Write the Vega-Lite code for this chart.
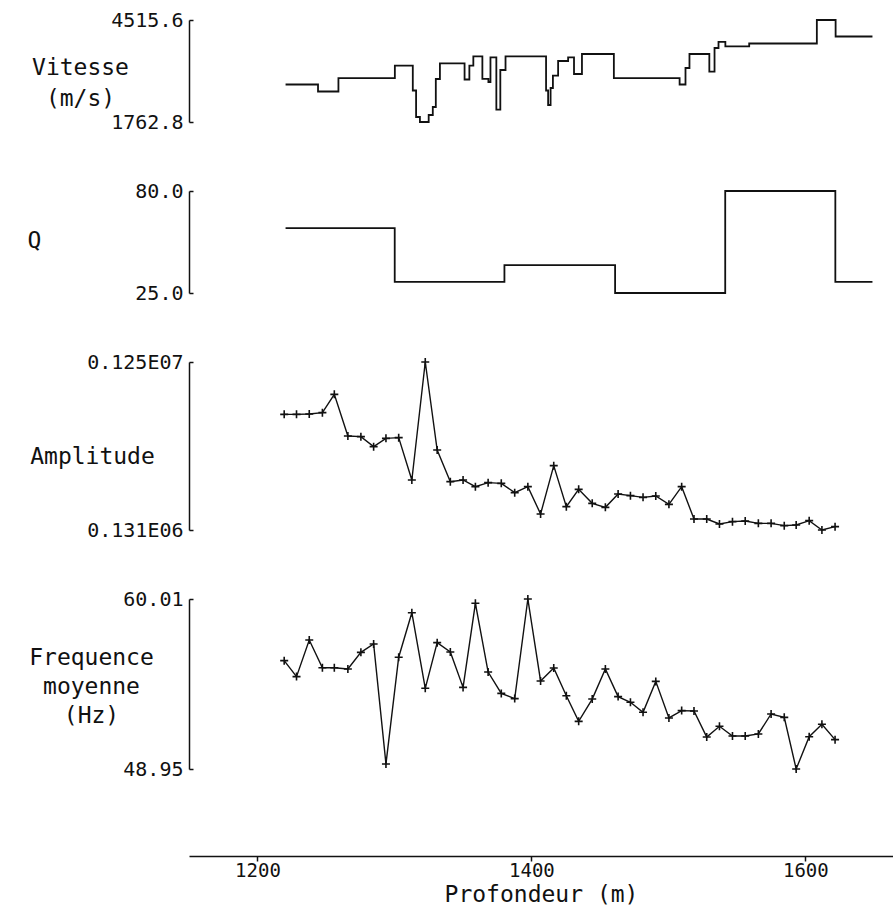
{
  "$schema": "https://vega.github.io/schema/vega-lite/v6.json",
  "background": "white",
  "padding": {"left": 27, "top": 10, "right": 0, "bottom": 0},
  "bounds": "flush",
  "spacing": 69,
  "config": {
    "view": {"stroke": null},
    "font": "DejaVu Sans Mono",
    "axis": {
      "grid": false,
      "domainColor": "#111111",
      "tickColor": "#111111",
      "labelColor": "#111111",
      "titleColor": "#111111",
      "labelFont": "DejaVu Sans Mono",
      "titleFont": "DejaVu Sans Mono",
      "labelFontSize": 20,
      "titleFontSize": 23,
      "titleFontWeight": "normal",
      "domainWidth": 1.5,
      "tickWidth": 1.5,
      "labelFlush": false,
      "labelOverlap": false,
      "labelBound": false
    }
  },
  "datasets": {
    "vitesse": [
      {"depth": 1220.5, "vitesse": 2775},
      {"depth": 1244.2, "vitesse": 2586},
      {"depth": 1259.1, "vitesse": 2945},
      {"depth": 1300.3, "vitesse": 3285},
      {"depth": 1313.4, "vitesse": 2613},
      {"depth": 1315.8, "vitesse": 1898},
      {"depth": 1318.6, "vitesse": 1763},
      {"depth": 1325.0, "vitesse": 1952},
      {"depth": 1328.0, "vitesse": 2168},
      {"depth": 1330.2, "vitesse": 2923},
      {"depth": 1333.2, "vitesse": 3347},
      {"depth": 1351.2, "vitesse": 2910},
      {"depth": 1354.7, "vitesse": 3285},
      {"depth": 1357.6, "vitesse": 3533},
      {"depth": 1364.2, "vitesse": 2926},
      {"depth": 1368.6, "vitesse": 2842},
      {"depth": 1370.1, "vitesse": 3506},
      {"depth": 1374.4, "vitesse": 2095},
      {"depth": 1377.3, "vitesse": 3166},
      {"depth": 1381.1, "vitesse": 3533},
      {"depth": 1410.7, "vitesse": 2613},
      {"depth": 1412.2, "vitesse": 2222},
      {"depth": 1414.0, "vitesse": 2680},
      {"depth": 1415.7, "vitesse": 3015},
      {"depth": 1419.5, "vitesse": 3409},
      {"depth": 1426.8, "vitesse": 3506},
      {"depth": 1431.1, "vitesse": 3058},
      {"depth": 1436.9, "vitesse": 3598},
      {"depth": 1460.2, "vitesse": 2945},
      {"depth": 1508.2, "vitesse": 2775},
      {"depth": 1512.5, "vitesse": 3220},
      {"depth": 1515.4, "vitesse": 3598},
      {"depth": 1529.9, "vitesse": 3123},
      {"depth": 1533.7, "vitesse": 3760},
      {"depth": 1536.6, "vitesse": 3927},
      {"depth": 1541.6, "vitesse": 3803},
      {"depth": 1559.0, "vitesse": 3881},
      {"depth": 1608.4, "vitesse": 4515.6},
      {"depth": 1622.1, "vitesse": 4070},
      {"depth": 1649.0, "vitesse": 4070}
    ],
    "q": [
      {"depth": 1220.5, "q": 60},
      {"depth": 1300.2, "q": 31},
      {"depth": 1380.3, "q": 40},
      {"depth": 1461.1, "q": 25},
      {"depth": 1541.5, "q": 80},
      {"depth": 1621.9, "q": 31},
      {"depth": 1649.0, "q": 31}
    ],
    "samples": [
      {"depth": 1219.5, "amplitude": 901440, "frequence": 56.00},
      {"depth": 1228.5, "amplitude": 901440, "frequence": 54.96},
      {"depth": 1237.8, "amplitude": 903640, "frequence": 57.34},
      {"depth": 1247.4, "amplitude": 912520, "frequence": 55.54},
      {"depth": 1256.1, "amplitude": 1034660, "frequence": 55.54},
      {"depth": 1266.0, "amplitude": 757110, "frequence": 55.46},
      {"depth": 1275.5, "amplitude": 752670, "frequence": 56.54},
      {"depth": 1284.8, "amplitude": 686060, "frequence": 57.08},
      {"depth": 1293.8, "amplitude": 741580, "frequence": 49.28},
      {"depth": 1303.1, "amplitude": 746020, "frequence": 56.22},
      {"depth": 1312.7, "amplitude": 464035, "frequence": 59.12},
      {"depth": 1322.5, "amplitude": 1250000, "frequence": 54.20},
      {"depth": 1331.2, "amplitude": 663860, "frequence": 57.17},
      {"depth": 1340.8, "amplitude": 452930, "frequence": 56.56},
      {"depth": 1350.1, "amplitude": 464035, "frequence": 54.26},
      {"depth": 1359.1, "amplitude": 419630, "frequence": 59.73},
      {"depth": 1368.4, "amplitude": 446270, "frequence": 55.26},
      {"depth": 1378.0, "amplitude": 441830, "frequence": 53.87},
      {"depth": 1387.8, "amplitude": 379650, "frequence": 53.53},
      {"depth": 1397.4, "amplitude": 419630, "frequence": 60.01},
      {"depth": 1406.7, "amplitude": 237570, "frequence": 54.68},
      {"depth": 1416.3, "amplitude": 559510, "frequence": 55.52},
      {"depth": 1425.5, "amplitude": 286420, "frequence": 53.72},
      {"depth": 1434.5, "amplitude": 401870, "frequence": 52.05},
      {"depth": 1444.4, "amplitude": 308620, "frequence": 53.50},
      {"depth": 1454.0, "amplitude": 281980, "frequence": 55.46},
      {"depth": 1463.3, "amplitude": 370790, "frequence": 53.66},
      {"depth": 1472.3, "amplitude": 359690, "frequence": 53.29},
      {"depth": 1481.5, "amplitude": 348590, "frequence": 52.64},
      {"depth": 1490.8, "amplitude": 357460, "frequence": 54.65},
      {"depth": 1500.4, "amplitude": 301960, "frequence": 52.27},
      {"depth": 1509.7, "amplitude": 419630, "frequence": 52.75},
      {"depth": 1518.7, "amplitude": 204270, "frequence": 52.72},
      {"depth": 1528.0, "amplitude": 204270, "frequence": 51.03},
      {"depth": 1537.3, "amplitude": 170960, "frequence": 51.73},
      {"depth": 1546.8, "amplitude": 186510, "frequence": 51.10},
      {"depth": 1556.1, "amplitude": 190950, "frequence": 51.10},
      {"depth": 1565.7, "amplitude": 175400, "frequence": 51.23},
      {"depth": 1575.0, "amplitude": 175400, "frequence": 52.53},
      {"depth": 1584.6, "amplitude": 159860, "frequence": 52.31},
      {"depth": 1593.3, "amplitude": 164300, "frequence": 48.95},
      {"depth": 1602.8, "amplitude": 193170, "frequence": 51.05},
      {"depth": 1612.1, "amplitude": 131000, "frequence": 51.86},
      {"depth": 1621.7, "amplitude": 153200, "frequence": 50.86}
    ]
  },
  "vconcat": [
    {
      "width": 704,
      "height": 102,
      "data": {"name": "vitesse"},
      "mark": {"type": "line", "interpolate": "step-after", "color": "#111111", "strokeWidth": 1.8},
      "encoding": {
        "x": {"field": "depth", "type": "quantitative", "scale": {"domain": [1150, 1664], "nice": false, "zero": false}, "axis": null},
        "y": {
          "field": "vitesse", "type": "quantitative",
          "scale": {"domain": [1762.8, 4515.6], "nice": false, "zero": false},
          "axis": {"values": [1762.8, 4515.6], "format": ".1f", "tickSize": -4, "labelPadding": 10,
            "title": ["Vitesse", "(m/s)"], "titleAngle": 0, "titleAlign": "center", "titleBaseline": "middle",
            "titleX": -109, "titleY": 47, "titleLineHeight": 31}
        }
      }
    },
    {
      "width": 704,
      "height": 102,
      "data": {"name": "q"},
      "mark": {"type": "line", "interpolate": "step-after", "color": "#111111", "strokeWidth": 1.8},
      "encoding": {
        "x": {"field": "depth", "type": "quantitative", "scale": {"domain": [1150, 1664], "nice": false, "zero": false}, "axis": null},
        "y": {
          "field": "q", "type": "quantitative",
          "scale": {"domain": [25, 80], "nice": false, "zero": false},
          "axis": {"values": [25, 80], "format": ".1f", "tickSize": -4, "labelPadding": 10,
            "title": "Q", "titleAngle": 0, "titleAlign": "center", "titleBaseline": "middle",
            "titleX": -155, "titleY": 49}
        }
      }
    },
    {
      "width": 704,
      "height": 168,
      "data": {"name": "samples"},
      "encoding": {
        "x": {"field": "depth", "type": "quantitative", "scale": {"domain": [1150, 1664], "nice": false, "zero": false}, "axis": null},
        "y": {
          "field": "amplitude", "type": "quantitative",
          "scale": {"domain": [131000, 1250000], "nice": false, "zero": false},
          "axis": {"values": [131000, 1250000], "labelExpr": "datum.value > 1000000 ? '0.125E07' : '0.131E06'", "tickSize": -4, "labelPadding": 10,
            "title": "Amplitude", "titleAngle": 0, "titleAlign": "center", "titleBaseline": "middle",
            "titleX": -97, "titleY": 94}
        }
      },
      "layer": [
        {"mark": {"type": "line", "color": "#111111", "strokeWidth": 1.4}},
        {"mark": {"type": "point", "shape": "M-1,0L1,0M0,-1L0,1", "filled": false, "stroke": "#111111", "strokeWidth": 1.6, "size": 64, "opacity": 1}}
      ]
    },
    {
      "width": 704,
      "height": 170,
      "data": {"name": "samples"},
      "encoding": {
        "x": {"field": "depth", "type": "quantitative", "scale": {"domain": [1150, 1664], "nice": false, "zero": false},
          "axis": {"values": [1200, 1400, 1600], "format": "d", "offset": 87, "tickSize": 5, "labelPadding": 0, "labelFontSize": 19,
            "title": "Profondeur (m)", "titleFontSize": 23, "titlePadding": 3}},
        "y": {
          "field": "frequence", "type": "quantitative",
          "scale": {"domain": [48.95, 60.01], "nice": false, "zero": false},
          "axis": {"values": [48.95, 60.01], "format": ".2f", "tickSize": -4, "labelPadding": 10,
            "title": ["Frequence", "moyenne", "(Hz)"], "titleAngle": 0, "titleAlign": "center", "titleBaseline": "middle",
            "titleX": -98, "titleY": 58, "titleLineHeight": 29}
        }
      },
      "layer": [
        {"mark": {"type": "line", "color": "#111111", "strokeWidth": 1.4}},
        {"mark": {"type": "point", "shape": "M-1,0L1,0M0,-1L0,1", "filled": false, "stroke": "#111111", "strokeWidth": 1.6, "size": 64, "opacity": 1}}
      ]
    }
  ]
}
